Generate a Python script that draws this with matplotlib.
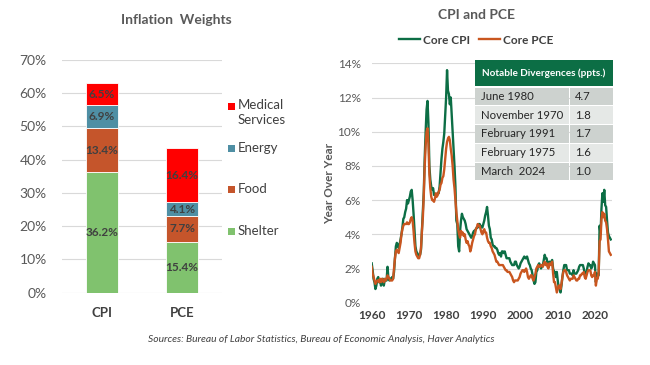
import matplotlib
matplotlib.use("Agg")
import matplotlib.pyplot as plt
import numpy as np
from matplotlib.patches import Rectangle

plt.rcParams['font.family'] = ['Lato', 'DejaVu Sans']

# ---------------- data ----------------
bar_categories = ["CPI", "PCE"]
components = ["Shelter", "Food", "Energy", "Medical\nServices"]
shelter = [36.2, 15.4]
food = [13.4, 7.7]
energy = [6.9, 4.1]
medical = [6.5, 16.4]
bar_yticks = [0, 10, 20, 30, 40, 50, 60, 70]

start_year = 1960
core_cpi = [
    2.3, 1.9, 1.4, 1.2, 0.8, 1.0, 1.4, 1.5, 1.2, 1.3, 1.0, 1.3, 1.4, 1.0, 1.3, 1.3,
    1.3, 2.1, 1.4, 1.3, 1.4, 1.4, 1.5, 1.4, 1.8, 2.6, 3.3, 3.5, 3.4, 3.2, 3.4, 3.7,
    4.0, 4.4, 4.9, 5.0, 5.3, 5.5, 6.0, 5.8, 6.0, 6.2, 6.5, 6.6, 6.0, 5.2, 4.3, 3.3,
    3.0, 2.9, 2.8, 2.8, 2.8, 3.1, 4.2, 5.2, 6.5, 8.5, 10.0, 11.3, 11.8, 10.5, 8.0, 7.2,
    6.8, 6.6, 6.7, 6.3, 6.3, 6.3, 6.3, 6.4, 6.4, 6.8, 7.6, 8.4, 9.0, 9.4, 9.9, 11.0,
    12.0, 13.6, 12.4, 12.2, 11.6, 12.0, 11.0, 10.0, 9.0, 8.0, 6.8, 4.8, 4.6, 3.3, 3.0, 4.2,
    4.8, 5.2, 5.0, 4.9, 4.8, 4.6, 4.3, 4.2, 4.1, 4.0, 3.9, 3.8, 3.9, 4.1, 4.2, 4.2,
    4.3, 4.4, 4.4, 4.6, 4.6, 4.5, 4.4, 4.4, 4.6, 4.8, 5.1, 5.3, 5.6, 5.1, 4.5, 4.3,
    3.8, 3.7, 3.4, 3.3, 3.3, 3.2, 3.2, 3.1, 2.9, 2.8, 2.9, 2.7, 3.0, 3.0, 2.9, 3.0,
    2.8, 2.6, 2.6, 2.6, 2.6, 2.4, 2.3, 2.2, 2.2, 2.2, 2.4, 2.4, 2.2, 2.1, 2.0, 2.1,
    2.3, 2.4, 2.5, 2.6, 2.7, 2.6, 2.6, 2.7, 2.5, 2.3, 2.2, 2.0, 1.9, 1.6, 1.3, 1.1,
    1.2, 1.8, 1.9, 2.2, 2.3, 2.2, 2.0, 2.1, 2.2, 2.5, 2.8, 2.6, 2.6, 2.3, 2.1, 2.4,
    2.3, 2.4, 2.5, 2.0, 1.8, 1.8, 1.5, 1.8, 1.3, 0.9, 0.8, 0.6, 1.0, 1.5, 1.9, 2.2,
    2.2, 2.2, 1.9, 1.9, 1.9, 1.7, 1.7, 1.7, 1.6, 1.9, 1.7, 1.7, 1.7, 1.8, 1.9, 2.1,
    2.2, 2.2, 2.2, 2.2, 2.0, 1.7, 1.7, 1.8, 2.1, 2.3, 2.2, 2.2, 2.0, 2.1, 2.4, 2.3,
    2.2, 1.2, 1.7, 1.6, 1.6, 4.5, 4.0, 5.5, 6.4, 5.9, 6.6, 5.7, 5.6, 4.8, 4.1, 3.9,
    3.8, 3.7,
]
core_pce = [
    2.1, 1.7, 1.5, 1.3, 1.1, 1.2, 1.3, 1.3, 1.2, 1.4, 1.2, 1.4, 1.3, 1.2, 1.4, 1.3,
    1.4, 1.6, 1.5, 1.4, 1.3, 1.3, 1.3, 1.4, 2.0, 2.6, 3.0, 3.1, 3.0, 2.9, 3.2, 3.5,
    4.0, 4.3, 4.5, 4.6, 4.6, 4.6, 4.7, 4.6, 4.6, 4.7, 4.9, 5.0, 4.8, 4.2, 3.5, 3.0,
    2.8, 2.7, 2.6, 2.6, 2.8, 3.2, 4.2, 5.0, 6.3, 8.0, 9.2, 10.0, 10.2, 9.3, 7.5, 6.7,
    6.2, 6.0, 6.0, 5.9, 6.1, 6.4, 6.2, 6.3, 6.5, 6.6, 6.9, 7.0, 7.3, 7.4, 7.8, 8.4,
    9.0, 9.4, 9.6, 9.7, 9.5, 9.0, 8.6, 8.0, 7.2, 6.7, 6.0, 5.3, 4.8, 4.3, 4.0, 3.8,
    4.2, 4.0, 4.1, 3.9, 4.0, 3.7, 3.5, 3.6, 3.4, 3.3, 3.0, 3.2, 3.5, 3.7, 3.9, 4.0,
    4.3, 4.4, 4.6, 4.5, 4.5, 4.3, 4.1, 4.0, 4.2, 4.3, 4.1, 4.1, 3.8, 3.6, 3.5, 3.5,
    3.3, 3.2, 3.0, 2.9, 2.8, 2.6, 2.4, 2.4, 2.3, 2.2, 2.2, 2.2, 2.2, 2.2, 2.1, 2.0,
    1.9, 1.9, 1.8, 1.8, 1.8, 1.7, 1.6, 1.5, 1.3, 1.2, 1.3, 1.3, 1.3, 1.3, 1.4, 1.5,
    1.7, 1.8, 1.9, 1.9, 1.8, 1.9, 2.0, 1.8, 1.5, 1.4, 1.5, 1.6, 1.6, 1.4, 1.3, 1.5,
    1.7, 2.0, 2.1, 2.2, 2.1, 2.1, 2.2, 2.2, 2.1, 2.3, 2.4, 2.2, 2.3, 2.1, 2.0, 2.3,
    2.2, 2.3, 2.4, 1.7, 1.2, 1.2, 0.9, 0.6, 0.8, 1.0, 1.0, 0.8, 1.1, 1.5, 1.8, 1.9,
    1.9, 1.8, 1.6, 1.5, 1.4, 1.3, 1.4, 1.4, 1.4, 1.6, 1.5, 1.4, 1.3, 1.3, 1.4, 1.4,
    1.6, 1.6, 1.7, 1.7, 1.8, 1.5, 1.4, 1.6, 1.8, 1.9, 1.9, 1.9, 1.6, 1.5, 1.6, 1.6,
    1.8, 1.0, 1.4, 1.4, 1.8, 3.6, 3.7, 4.9, 5.3, 5.0, 5.2, 4.8, 4.7, 4.3, 3.7, 3.0,
    2.9, 2.8,
]
line_xticks = [1960, 1970, 1980, 1990, 2000, 2010, 2020]
line_yticks = [0, 2, 4, 6, 8, 10, 12, 14]

table_title = "Notable Divergences (ppts.)"
table_dates = ["June 1980", "November 1970", "February 1991", "February 1975", "March  2024"]
table_values = ["4.7", "1.8", "1.7", "1.6", "1.0"]

source_text = "Sources: Bureau of Labor Statistics, Bureau of Economic Analysis, Haver Analytics"

# ---------------- styles ----------------
C_SHELTER = "#80C26E"
C_FOOD = "#C5552B"
C_ENERGY = "#4F8FA4"
C_MED = "#FF0000"
C_CPI = "#0C6E45"
C_PCE = "#C9561F"
TXT = "#595959"
DARK = "#404040"
GRID = "#D9D9D9"

W, H = 650, 365
fig = plt.figure(figsize=(6.5, 3.65), dpi=100)
fig.patch.set_facecolor("white")

def fx(px):
    return px / W

def fy(py):
    return 1 - py / H

# ---------------- left: stacked bars ----------------
axL = fig.add_axes([fx(62), fy(292.7), fx(222) - fx(62), fy(60) - fy(292.7)])
x = np.arange(len(bar_categories))
series = [shelter, food, energy, medical]
colors = [C_SHELTER, C_FOOD, C_ENERGY, C_MED]
bottom = np.zeros(len(bar_categories))
for vals, col, name in zip(series, colors, components):
    axL.bar(x, vals, width=0.39, bottom=bottom, color=col, edgecolor="white",
            linewidth=0.6, label=name, zorder=3)
    for xi, v, bt in zip(x, vals, bottom):
        axL.text(xi, bt + v / 2, f"{v:.1f}%", ha="center", va="center",
                 fontsize=8.5, fontweight="bold", color=DARK, zorder=4)
    bottom = bottom + np.array(vals)

axL.set_xlim(-0.5, 1.5)
axL.set_ylim(0, 70)
axL.set_yticks(bar_yticks)
axL.set_yticklabels([f"{t}%" for t in bar_yticks], fontsize=10, color=TXT)
axL.set_xticks(x)
axL.set_xticklabels(bar_categories, fontsize=9.5, fontweight="bold", color=DARK)
axL.tick_params(axis="both", length=0)
axL.tick_params(axis="y", pad=11)
axL.tick_params(axis="x", pad=10)
axL.grid(axis="y", color=GRID, linewidth=0.8, zorder=0)
for s in axL.spines.values():
    s.set_visible(False)
fig.text(fx(176), fy(20), "Inflation  Weights", ha="center", va="center",
         fontsize=10, fontweight="bold", color=TXT)

# legend (reverse stacking order), placed like the original
legend_y = [106, 148, 189, 231]
for name, col, ly in zip(components[::-1], colors[::-1], legend_y):
    fig.patches.append(Rectangle((fx(228), fy(ly + 3.5)), fx(7), 7 / H,
                                 transform=fig.transFigure, facecolor=col,
                                 edgecolor="none"))
    fig.text(fx(238), fy(ly), name, ha="left", va="top" if "\n" in name else "center",
             fontsize=9.5, color=DARK, linespacing=1.25)
# adjust multi-line label so first line centers on its square
# (va top with offset)
for txt in fig.texts:
    if txt.get_text().startswith("Medical"):
        txt.set_position((fx(238), fy(99)))

# ---------------- right: lines ----------------
axR = fig.add_axes([fx(371.7), fy(302.7), fx(611.7) - fx(371.7), fy(63.3) - fy(302.7)])
n = len(core_cpi)
t = start_year + np.arange(n) / 4.0
axR.plot(t, core_cpi, color=C_CPI, linewidth=1.7, label="Core CPI", zorder=3)
axR.plot(t[:len(core_pce)], core_pce, color=C_PCE, linewidth=1.7, label="Core PCE", zorder=4)
axR.set_xlim(1960, 2024.5)
axR.set_ylim(0, 14)
axR.set_yticks(line_yticks)
axR.set_yticklabels([f"{v}%" for v in line_yticks], fontsize=8.5, color=TXT)
axR.set_xticks(line_xticks)
axR.set_xticklabels([str(v) for v in line_xticks], fontsize=8.5, fontweight="bold", color=DARK)
axR.tick_params(axis="both", length=0)
axR.tick_params(axis="y", pad=8)
axR.tick_params(axis="x", pad=5)
axR.grid(axis="y", color=GRID, linewidth=0.8, zorder=0)
for s in axR.spines.values():
    s.set_visible(False)
axR.set_ylabel("Year Over Year", fontsize=8.5, fontweight="bold", color=TXT)
axR.yaxis.set_label_coords((335 - 371.7) / 240.0, 0.5)
fig.text(fx(476), fy(15), "CPI and PCE", ha="center", va="center",
         fontsize=10, fontweight="bold", color=TXT)
legR = axR.legend(loc="center", bbox_to_anchor=(fx(476), fy(40)),
                  bbox_transform=fig.transFigure, ncol=2, frameon=False,
                  fontsize=8.5, handlelength=1.8, handletextpad=0.2,
                  columnspacing=0.8, borderpad=0)
for tx in legR.get_texts():
    tx.set_color(DARK)
    tx.set_fontweight("bold")

# ---------------- table ----------------
def ax_fx(px):
    return (px - 371.7) / 240.0

def ax_fy(py):
    return (302.7 - py) / 239.4

tl, tr = ax_fx(475), ax_fx(613)
hdr_top, hdr_bot = ax_fy(60), ax_fy(85.5)
axR.add_patch(Rectangle((tl, hdr_bot), tr - tl, hdr_top - hdr_bot, transform=axR.transAxes,
                        facecolor=C_CPI, edgecolor="none", clip_on=False, zorder=6))
axR.text((tl + tr) / 2, (hdr_top + hdr_bot) / 2, table_title, transform=axR.transAxes,
         ha="center", va="center", fontsize=7.2, fontweight="bold", color="white", zorder=7)
row_h = (181.5 - 87.5) / len(table_dates)
for i, (d, v) in enumerate(zip(table_dates, table_values)):
    top = 87.5 + i * row_h
    bot = top + row_h - 1.2
    fc = "#CDD2CF" if i % 2 == 0 else "#E5E8E6"
    for (a, b) in [(475, 568.5), (569.5, 613)]:
        axR.add_patch(Rectangle((ax_fx(a), ax_fy(bot)), ax_fx(b) - ax_fx(a), ax_fy(top) - ax_fy(bot),
                                transform=axR.transAxes, facecolor=fc, edgecolor="none",
                                clip_on=False, zorder=6))
    yc = (ax_fy(top) + ax_fy(bot)) / 2
    axR.text(ax_fx(481), yc, d, transform=axR.transAxes, ha="left", va="center",
             fontsize=8.2, color="#262626", zorder=7)
    axR.text(ax_fx(575), yc, v, transform=axR.transAxes, ha="left", va="center",
             fontsize=8.2, color="#262626", zorder=7)

# ---------------- source ----------------
fig.text(fx(321), fy(339), source_text, ha="center", va="center", fontsize=7.4,
         style="italic", color=DARK)

fig.savefig("out.png", dpi=100, facecolor="white")
